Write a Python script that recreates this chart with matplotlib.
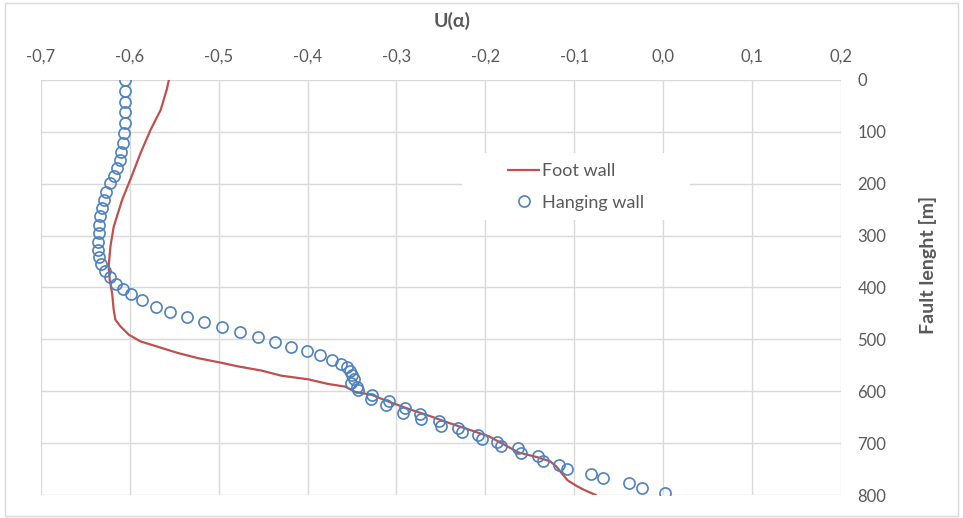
import matplotlib
matplotlib.use("Agg")
import matplotlib.pyplot as plt
from matplotlib.ticker import MultipleLocator, FuncFormatter
from matplotlib.patches import Rectangle

# =====================
# Fonts
# =====================

plt.rcParams['font.family'] = ['Lato', 'DejaVu Sans']

# =====================
# Data
# =====================

# Foot wall (continuous line)
foot_u = [-0.556, -0.5585, -0.5653, -0.5766, -0.5879, -0.5973, -0.6086, -0.6181,
          -0.6218, -0.6238, -0.6226, -0.6199, -0.6181, -0.6162, -0.6105, -0.6011,
          -0.5879, -0.569, -0.5464, -0.5238, -0.4974, -0.4785, -0.4522, -0.4295,
          -0.3993, -0.3767, -0.3579, -0.3466, -0.3277, -0.3088, -0.2862, -0.2636,
          -0.241, -0.2183, -0.1957, -0.1765, -0.1626, -0.1417, -0.127, -0.12,
          -0.113, -0.1071, -0.0977, -0.089, -0.0757]
foot_len = [0, 19, 58, 96, 141, 183, 231, 283,
            321, 360, 385, 411, 443, 462, 475, 491,
            504, 514, 526, 536, 545, 552, 560, 570,
            577, 586, 591, 601, 607, 620, 634, 647,
            661, 674, 687, 705, 718, 727, 735, 745,
            760, 772, 782, 790, 800]

# Hanging wall (open circles)
hang_u = [-0.6057, -0.6057, -0.6052, -0.6049, -0.6052, -0.6063, -0.6075, -0.6094,
          -0.6113, -0.6143, -0.6173, -0.6224, -0.6267, -0.6294, -0.6312, -0.6331,
          -0.6343, -0.6351, -0.6357, -0.636, -0.6343, -0.632, -0.6284, -0.6227,
          -0.6158, -0.6077, -0.5986, -0.586, -0.5709, -0.5548, -0.5359, -0.5163,
          -0.4966, -0.4756, -0.4561, -0.4363, -0.4182, -0.4001, -0.3862, -0.3722,
          -0.3624, -0.356, -0.352, -0.3498, -0.3475, -0.3509, -0.3447, -0.343,
          -0.3269, -0.3288, -0.3088, -0.3119, -0.29, -0.293, -0.2731, -0.2719,
          -0.2519, -0.2493, -0.2304, -0.2267, -0.2078, -0.2041, -0.1863, -0.1826,
          -0.1637, -0.16, -0.1403, -0.1351, -0.1165, -0.1083, -0.0815, -0.0676,
          -0.0381, -0.0231, 0.002]
hang_len = [0, 21, 42, 62, 82, 103, 121, 139,
            154, 170, 185, 199, 215, 231, 247, 263,
            279, 295, 312, 327, 342, 355, 368, 380,
            393, 403, 413, 425, 437, 448, 456, 467,
            477, 486, 496, 505, 514, 522, 530, 540,
            548, 554, 561, 568, 576, 585, 591, 598,
            607, 614, 619, 626, 632, 641, 644, 653,
            658, 667, 671, 679, 684, 692, 697, 705,
            710, 719, 724, 734, 742, 750, 759, 767,
            777, 787, 797]

# =====================
# Figure
# =====================

fig = plt.figure(figsize=(9.63, 5.18), dpi=100)
ax = fig.add_axes([0.0425, 0.0444, 0.8305, 0.8012])

text_gray = '#595959'
grid_gray = '#d9d9d9'

# =====================
# Plot
# =====================

ax.plot(foot_u, foot_len, color='#C0504D', lw=1.6, label='Foot wall', zorder=3)
ax.plot(hang_u, hang_len, ls='none', marker='o', ms=8.0, mfc='none',
        mec='#4F81BD', mew=1.2, label='Hanging wall', zorder=4)

# =====================
# Axes settings
# =====================

ax.set_xlim(-0.7, 0.2)
ax.set_ylim(800, 0)
ax.xaxis.set_major_locator(MultipleLocator(0.1))
ax.yaxis.set_major_locator(MultipleLocator(100))


def comma_fmt(v, pos):
    if abs(v) < 1e-9:
        v = 0.0
    return f"{v:.1f}".replace('.', ',')


ax.xaxis.set_major_formatter(FuncFormatter(comma_fmt))
ax.xaxis.tick_top()
ax.yaxis.tick_right()
ax.tick_params(axis='x', length=0, pad=11, labelsize=12, labelcolor=text_gray)
ax.tick_params(axis='y', length=0, pad=12, labelsize=12, labelcolor=text_gray)

for s in ax.spines.values():
    s.set_visible(False)

ax.set_axisbelow(True)
ax.grid(True, color=grid_gray, lw=1.0)

# titles
fig.text(452 / 963, 1 - 21 / 518, 'U(α)', ha='center', va='center',
         fontsize=14, fontweight='bold', color=text_gray)
fig.text(928 / 963, 1 - 265 / 518, 'Fault lenght [m]', ha='center', va='center',
         rotation=90, fontsize=14, fontweight='bold', color=text_gray)

# white box behind the legend (hides gridlines)
ax.add_patch(Rectangle((462 / 963, 1 - 220 / 518), 228 / 963, 67 / 518,
                       transform=fig.transFigure, facecolor='white',
                       edgecolor='none', zorder=1))

leg = ax.legend(loc='center', bbox_to_anchor=(576 / 963, 1 - 187 / 518),
                bbox_transform=fig.transFigure, frameon=False, fontsize=13,
                handlelength=1.75, handletextpad=0.15, labelspacing=0.85)
for t in leg.get_texts():
    t.set_color(text_gray)

# outer chart border
fig.patches.append(Rectangle((0.005, 0.004), 0.99, 0.991, transform=fig.transFigure,
                             fill=False, edgecolor=grid_gray, lw=1.0))

fig.savefig('out.png', dpi=100)
